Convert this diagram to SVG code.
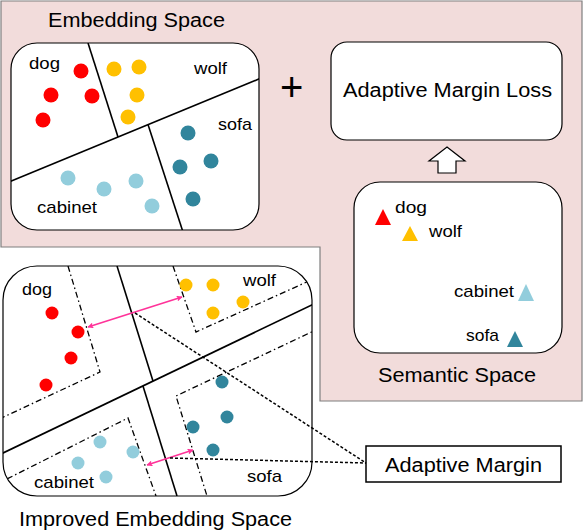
<svg xmlns="http://www.w3.org/2000/svg" width="584" height="532" viewBox="0 0 584 532">
<style>
text{font-family:"Liberation Sans",Arial,sans-serif;fill:#000}
.t{font-size:20px}
.l{font-size:17px}
.box{fill:#fff;stroke:#000;stroke-width:1.2}
.sl{stroke:#000;stroke-width:1.6;fill:none}
.dd{stroke:#000;stroke-width:1.3;fill:none;stroke-dasharray:6 3 1.5 3}
.dt{stroke:#000;stroke-width:1.5;fill:none;stroke-dasharray:3 2}
.pk{stroke:#ff3399;stroke-width:1.6;fill:none;marker-start:url(#ah);marker-end:url(#ah)}
.r{fill:#ff0000}.y{fill:#ffc000}.b{fill:#31859c}.c{fill:#92cddc}
</style>
<defs>
<marker id="ah" viewBox="0 0 10 10" refX="9" refY="5" markerWidth="6" markerHeight="6" orient="auto-start-reverse" markerUnits="userSpaceOnUse">
<path d="M0,0 L10,5 L0,10 L2,5 Z" fill="#ff3399"/>
</marker>
<clipPath id="clipTop"><rect x="11" y="43" width="248" height="187" rx="26"/></clipPath>
<clipPath id="clipImp"><rect x="3" y="266" width="309" height="230" rx="34"/></clipPath>
</defs>

<path id="bg" d="M1,1 H582 V401 H320 V247 H1 Z" fill="#f2dcdb" stroke="#7f7f7f" stroke-width="1.2"/>

<g id="embedding-space">
<text class="t" x="48" y="27" textLength="177" lengthAdjust="spacingAndGlyphs">Embedding Space</text>
<rect class="box" x="11" y="43" width="248" height="187" rx="26"/>
<g clip-path="url(#clipTop)">
<line class="sl" x1="88" y1="43" x2="118" y2="137"/>
<line class="sl" x1="5" y1="183.5" x2="265" y2="76.5"/>
<line class="sl" x1="148" y1="124.5" x2="183" y2="232"/>
</g>
<circle class="r" cx="81" cy="71" r="7.5"/><circle class="r" cx="51" cy="95" r="7.5"/><circle class="r" cx="92" cy="96" r="7.5"/><circle class="r" cx="43" cy="120" r="7.5"/>
<circle class="y" cx="114" cy="69" r="7.5"/><circle class="y" cx="139" cy="67" r="7.5"/><circle class="y" cx="137" cy="95" r="7.5"/><circle class="y" cx="128" cy="117" r="7.5"/>
<circle class="b" cx="188" cy="133" r="7.5"/><circle class="b" cx="211" cy="161" r="7.5"/><circle class="b" cx="180" cy="167" r="7.5"/><circle class="b" cx="193" cy="199" r="7.5"/>
<circle class="c" cx="68" cy="178" r="7.5"/><circle class="c" cx="104" cy="189" r="7.5"/><circle class="c" cx="136" cy="181" r="7.5"/><circle class="c" cx="152" cy="206" r="7.5"/>
<text class="l" x="29" y="69" textLength="31" lengthAdjust="spacingAndGlyphs">dog</text>
<text class="l" x="194" y="74" textLength="33" lengthAdjust="spacingAndGlyphs">wolf</text>
<text class="l" x="218" y="130" textLength="34" lengthAdjust="spacingAndGlyphs">sofa</text>
<text class="l" x="37" y="213" textLength="60" lengthAdjust="spacingAndGlyphs">cabinet</text>
</g>

<g id="plus"><text x="280" y="101" style="font-size:40px">+</text></g>

<g id="adaptive-margin-loss">
<rect class="box" x="331" y="42" width="231" height="98" rx="16"/>
<text class="t" x="343" y="97" textLength="209" lengthAdjust="spacingAndGlyphs">Adaptive Margin Loss</text>
</g>

<g id="semantic-space">
<rect class="box" x="354" y="182" width="208" height="171" rx="26"/>
<polygon class="r" points="383,209 391,225 375,225"/>
<polygon class="y" points="410,226 418,241 402,241"/>
<polygon class="c" points="526,284 534,301 518,301"/>
<polygon class="b" points="515,331 523,347 507,347"/>
<text class="l" x="395" y="213" textLength="32" lengthAdjust="spacingAndGlyphs">dog</text>
<text class="l" x="429" y="237" textLength="33" lengthAdjust="spacingAndGlyphs">wolf</text>
<text class="l" x="454" y="297" textLength="60" lengthAdjust="spacingAndGlyphs">cabinet</text>
<text class="l" x="466" y="341" textLength="33" lengthAdjust="spacingAndGlyphs">sofa</text>
<text class="t" x="378" y="382" textLength="158" lengthAdjust="spacingAndGlyphs">Semantic Space</text>
</g>

<g id="improved-embedding-space">
<rect class="box" x="3" y="266" width="309" height="230" rx="34"/>
<g clip-path="url(#clipImp)">
<line class="sl" x1="117" y1="266" x2="153" y2="381"/>
<line class="sl" x1="-2" y1="455.4" x2="316" y2="303"/>
<line class="sl" x1="143" y1="386" x2="177" y2="496"/>
<polyline class="dd" points="68,266 100,372 -5,421"/>
<polyline class="dd" points="173,266 196,332 320,276"/>
<polyline class="dd" points="320,328 176,396 207,496"/>
<polyline class="dd" points="-5,485 128,418 156,496"/>
</g>
<circle class="r" cx="52" cy="313" r="6.5"/><circle class="r" cx="78" cy="332" r="6.5"/><circle class="r" cx="71" cy="358" r="6.5"/><circle class="r" cx="46" cy="385" r="6.5"/>
<circle class="y" cx="186" cy="285" r="6.5"/><circle class="y" cx="213" cy="285" r="6.5"/><circle class="y" cx="243" cy="302" r="6.5"/><circle class="y" cx="213" cy="313" r="6.5"/>
<circle class="b" cx="222" cy="382" r="6.5"/><circle class="b" cx="227" cy="417" r="6.5"/><circle class="b" cx="193" cy="427" r="6.5"/><circle class="b" cx="213" cy="450" r="6.5"/>
<circle class="c" cx="100" cy="442" r="6.5"/><circle class="c" cx="133" cy="452" r="6.5"/><circle class="c" cx="78" cy="463" r="6.5"/><circle class="c" cx="106" cy="477" r="6.5"/>
<text class="l" x="22" y="295" textLength="30" lengthAdjust="spacingAndGlyphs">dog</text>
<text class="l" x="243" y="286" textLength="33" lengthAdjust="spacingAndGlyphs">wolf</text>
<text class="l" x="34" y="488" textLength="60" lengthAdjust="spacingAndGlyphs">cabinet</text>
<text class="l" x="247" y="482" textLength="35" lengthAdjust="spacingAndGlyphs">sofa</text>
<text class="t" x="19" y="526" textLength="273" lengthAdjust="spacingAndGlyphs">Improved Embedding Space</text>
</g>

<g id="adaptive-margin">
<rect x="366" y="446" width="195" height="36" fill="#fff" stroke="#000" stroke-width="1.5"/>
<text class="t" x="385" y="472" textLength="157" lengthAdjust="spacingAndGlyphs">Adaptive Margin</text>
</g>

<g id="connectors">
<polygon points="447,147 465,161 456,161 456,173 438,173 438,161 429,161" fill="#fff" stroke="#000" stroke-width="1.2"/>
<line class="pk" x1="88" y1="327" x2="182" y2="297"/>
<line class="pk" x1="147" y1="465" x2="193" y2="450"/>
<line class="dt" x1="135" y1="313" x2="366" y2="463"/>
<line class="dt" x1="170" y1="458" x2="366" y2="463"/>
</g>
</svg>
